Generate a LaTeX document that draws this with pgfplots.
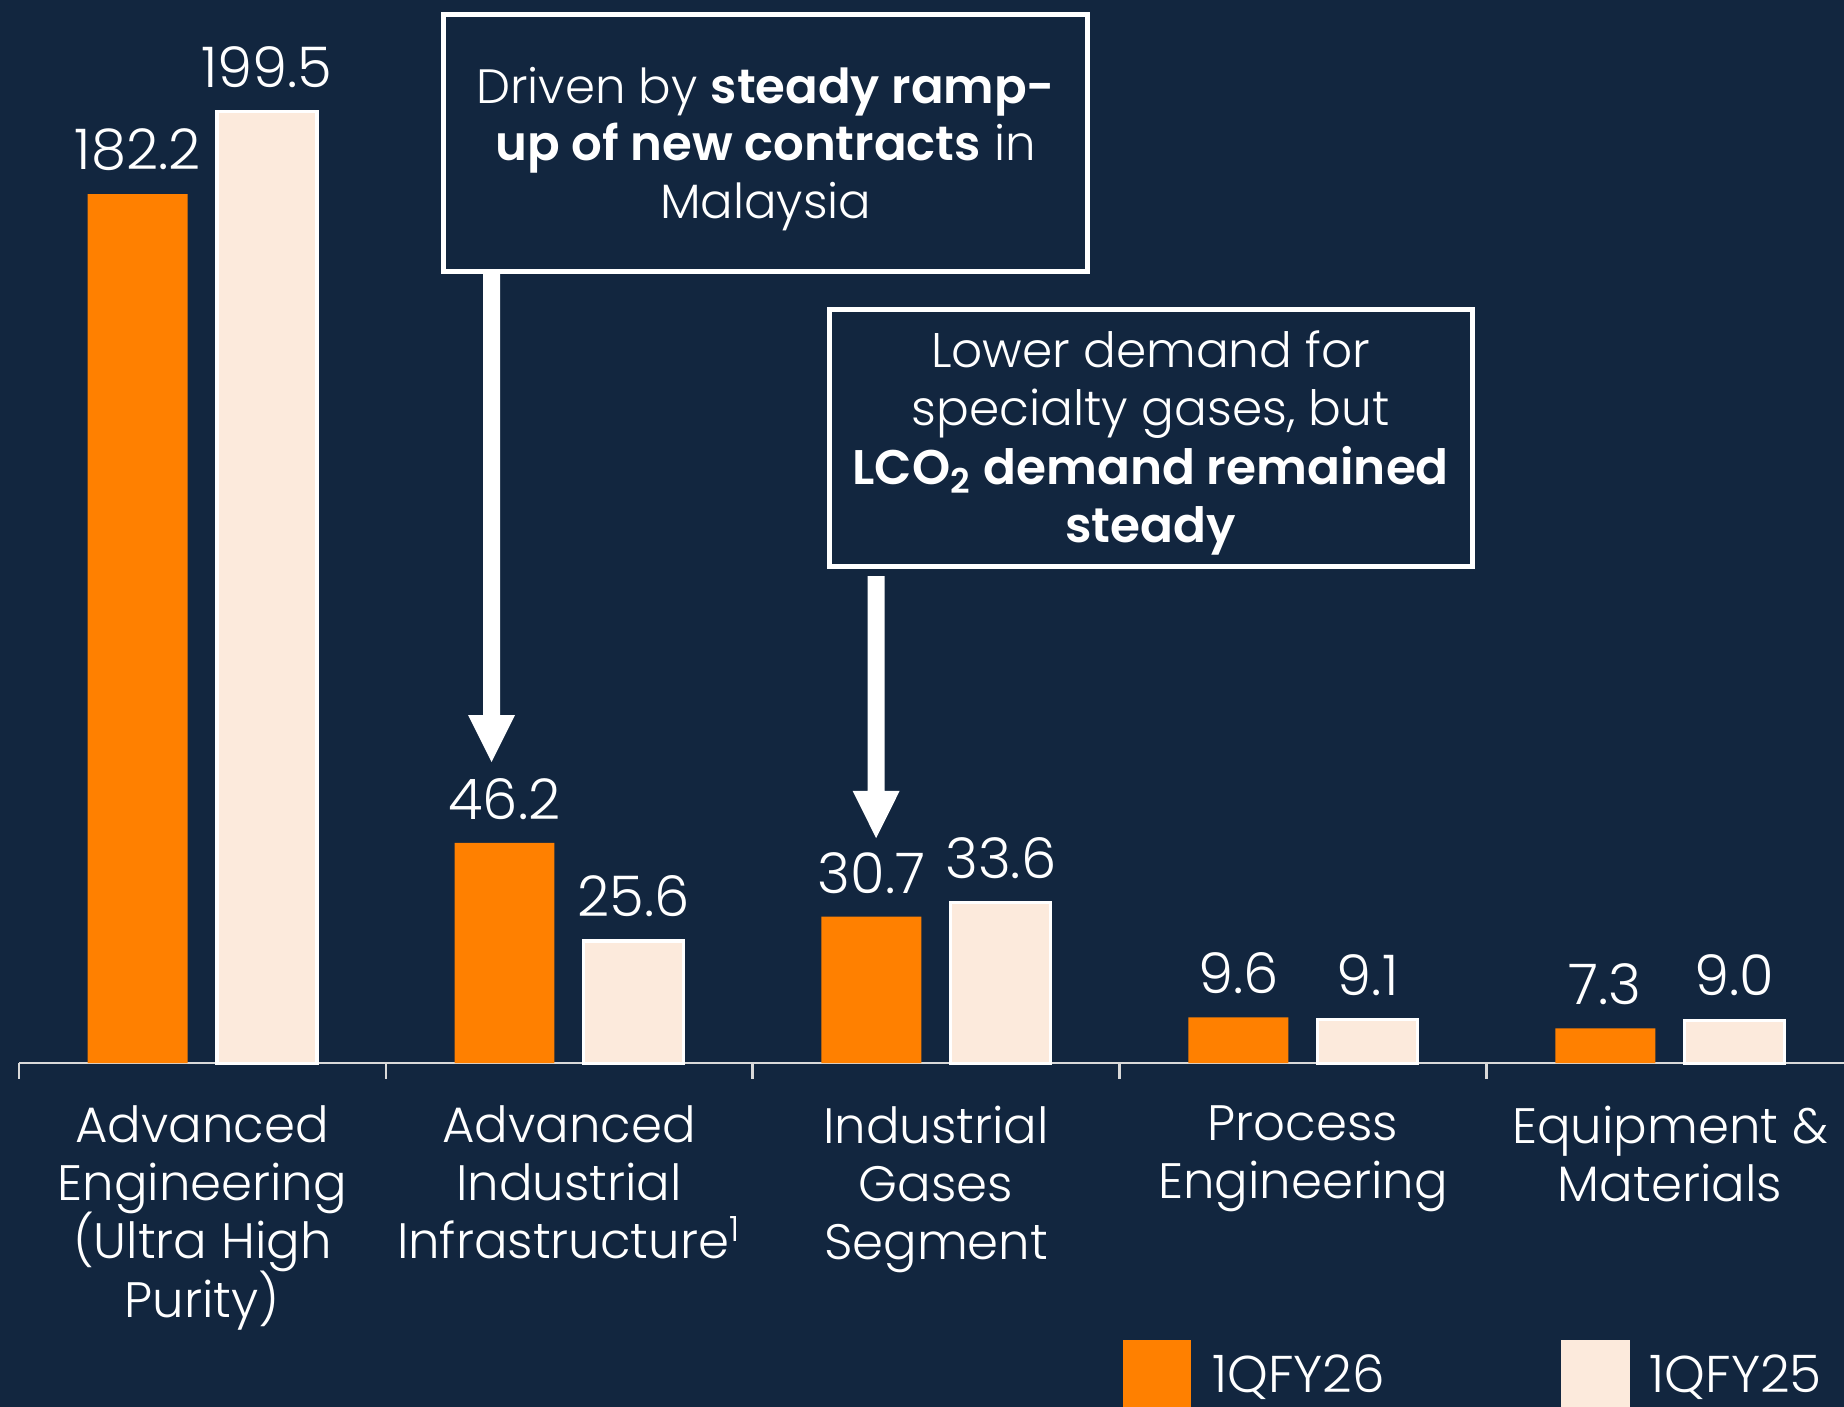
\documentclass[border=0pt]{standalone}
\usepackage{pgfplots}
\pgfplotsset{compat=1.18}
\usepackage{fontspec}
\setmainfont{Poppins}[UprightFont=* Light, BoldFont=* SemiBold]
\definecolor{navy}{HTML}{12263F}
\definecolor{orangec}{HTML}{FF8000}
\definecolor{cream}{HTML}{FCEADC}
\definecolor{axisgray}{HTML}{D9D9D9}
\newcommand{\catfont}{\fontsize{12.7}{14.85}\selectfont\lineskiplimit=-20pt\relax\lineskip=0pt\relax}
\begin{document}
\begin{tikzpicture}
\fill[navy] (-4.8pt,-87.6pt) rectangle (465.6pt,271.2pt);
\begin{axis}[
  scale only axis, width=465.6pt, height=271.2pt,
  xmin=-0.5, xmax=4.4744, ymin=0, ymax=222.9,
  ybar=7.5pt, bar width=25.5pt,
  axis y line=none, axis x line*=bottom,
  x axis line style={draw=axisgray, line width=0.6pt},
  xtick={0,1,2,3,4},
  xticklabels={{Advanced\\Engineering\\(Ultra High\\Purity)},
               {Advanced\\Industrial\\Infrastructure\textsuperscript{1}},
               {Industrial\\Gases\\Segment},
               {Process\\Engineering},
               {Equipment \&\\Materials}},
  major tick length=0pt,
  minor xtick={-0.5,0.5,1.5,2.5,3.5},
  minor tick length=4pt, tick align=outside,
  minor tick style={draw=axisgray, line width=0.6pt},
  xticklabel style={align=center, text=white, anchor=north, yshift=-7.3pt,
    font=\catfont},
  nodes near coords={\pgfmathprintnumber[fixed,fixed zerofill,precision=1,assume math mode=true]{\pgfplotspointmeta}},
  every node near coord/.append style={text=white, yshift=2.4pt, font=\fontsize{14.3}{16}\selectfont},
  clip=false,
]
\addplot[fill=orangec, draw=none] coordinates {(0,182.2) (1,46.2) (2,30.7) (3,9.6) (4,7.3)};
\addplot[fill=cream, draw=white, line width=0.8pt] coordinates {(0,199.5) (1,25.6) (2,33.6) (3,9.1) (4,9.0)};
\end{axis}
% annotation boxes
\draw[white, line width=1.3pt] (108.3pt,201.9pt) rectangle (272.7pt,267.6pt);
\node[text=white, align=center, font=\fontsize{12.3}{14.7}\selectfont, inner sep=0pt] at (190.5pt,233.2pt)
  {Driven by \textbf{steady ramp-}\\\textbf{up of new contracts} in\\Malaysia};
\draw[white, line width=1.3pt] (206.7pt,126.6pt) rectangle (370.8pt,192.3pt);
\node[text=white, align=center, font=\fontsize{12.4}{14.8}\selectfont, inner sep=0pt] at (288.75pt,158.2pt)
  {Lower demand for\\specialty gases, but\\\textbf{LCO\textsubscript{2} demand remained}\\\textbf{steady}};
% arrows
\fill[white] (118.45pt,201.9pt) -- (122.75pt,201.9pt) -- (122.75pt,88.8pt) -- (126.6pt,88.8pt)
  -- (120.6pt,76.8pt) -- (114.6pt,88.8pt) -- (118.45pt,88.8pt) -- cycle;
\fill[white] (216.55pt,124.2pt) -- (220.85pt,124.2pt) -- (220.85pt,69.45pt) -- (224.7pt,69.45pt)
  -- (218.7pt,57.4pt) -- (212.7pt,69.45pt) -- (216.55pt,69.45pt) -- cycle;
% legend
\fill[orangec] (281.7pt,-70.65pt) rectangle (299.1pt,-100pt);
\node[text=white, anchor=base west, inner sep=0pt, font=\fontsize{13.2}{15}\selectfont] at (304.2pt,-84.0pt) {1QFY26};
\fill[cream] (393.3pt,-70.65pt) rectangle (411pt,-100pt);
\node[text=white, anchor=base west, inner sep=0pt, font=\fontsize{13.2}{15}\selectfont] at (415.8pt,-84.0pt) {1QFY25};
\pgfresetboundingbox
\useasboundingbox (-4.8pt,-87.6pt) rectangle (465.6pt,271.2pt);
\end{tikzpicture}
\end{document}
